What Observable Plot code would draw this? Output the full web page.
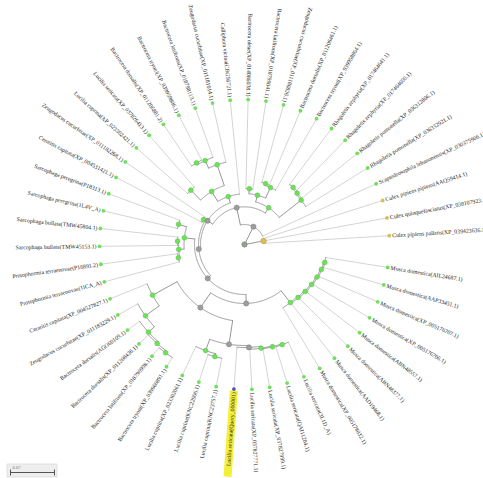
<!DOCTYPE html>
<html><head><meta charset="utf-8">
<script src="https://cdn.jsdelivr.net/npm/d3@7"></script>
<script src="https://cdn.jsdelivr.net/npm/@observablehq/plot@0.6"></script>
<style>body{margin:0;background:#fff}#chart svg{display:block}</style>
</head><body><div id="chart"></div>
<script>
// ---------- data ----------
const leafNames = [
  "Musca domestica(AIL24687.1)", "Musca domestica(AAP33451.1)", "Musca domestica(XP_005176707.1)",
  "Musca domestica(XP_005176706.1)", "Musca domestica(ABN48557.1)", "Musca domestica(ABN48377.1)",
  "Musca domestica(AAD19468.1)", "Musca domestica(XP_005178032.1)", "Lucilia sericata(3L1D_A)",
  "Lucilia sericata(QAI11204.1)", "Lucilia sericata(XP_037827999.1)", "Lucilia sericata(XP_037827771.1)",
  "Lucilia sericata(Query_000001)", "Lucilia cuprina(KNC23757.1)", "Lucilia cuprina(KNC22906.1)",
  "Lucilia cuprina(XP_023302061.1)", "Bactrocera tryoni(XP_039960891.1)", "Bactrocera latifrons(XP_018796908.1)",
  "Bactrocera dorsalis(XP_011208436.1)", "Bactrocera dorsalis(AGO60109.1)", "Zeugodacus cucurbitae(XP_011183229.1)",
  "Ceratitis capitata(XP_004527827.1)", "Protophormia terraenovae(1ICA_A)", "Protophormia terraenovae(P16891.2)",
  "Sarcophaga bullata(TMW45153.1)", "Sarcophaga bullata(TMW45804.1)", "Sarcophaga peregrina(1L4V_A)",
  "Sarcophaga peregrina(P18313.1)", "Ceratitis capitata(XP_004531421.1)", "Zeugodacus cucurbitae(XP_011182268.1)",
  "Lucilia cuprina(XP_023302421.1)", "Lucilia sericata(XP_037826413.1)", "Bactrocera dorsalis(XP_011206881.2)",
  "Bactrocera tryoni(XP_039959806.1)", "Bactrocera latifrons(XP_018798113.1)", "Zeugodacus cucurbitae(XP_011181014.1)",
  "Calliphora vicina(CBG56721.1)", "Bactrocera oleae(XP_014086038.1)", "Bactrocera latifrons(XP_018799041.1)",
  "Zeugodacus cucurbitae(XP_011186826.1)", "Bactrocera dorsalis(XP_011206461.1)", "Bactrocera tryoni(XP_039958864.1)",
  "Rhagoletis zephyria(XP_017464641.1)", "Rhagoletis zephyria(XP_017464600.1)", "Rhagoletis pomonella(XP_036312806.1)",
  "Rhagoletis pomonella(XP_036332921.1)", "Scaptodrosophila lebanonensis(XP_030375906.1)", "Culex pipiens pipiens(AAQ59414.1)",
  "Culex quinquefasciatus(XP_038107923.1)", "Culex pipiens pallens(XP_039423636.1)"
];
// tree topology (leaf ids refer to leafNames), branch lengths in substitutions/site
// internal labels: g = low-support node, y = outgroup node
const newick =
  "((47,48,49)y:0.0309,(((((((((((((((0,1):0.0022,2):0.0022,3):0.0022,4):0.0022,5):0.0022,6):0.0022,7):0.0239," +
  "((((((8,9):0.0016,10):0.0016,11):0.0032,12)g:0.0032,((13,14):0.0048,15):0.0191)g:0.0382," +
  "(((((16,17):0.0032,18):0.0032,19):0.0127,20):0.0271,21):0.0446)g:0.0287)g:0.0143," +
  "(((22,23):0.0024,(24,25):0.0016):0.0088,(26,27):0.0135):0.0167)g:0.0064,(28,29):0.0032)g:0.0032," +
  "(((30,31):0.0223,(((32,33):0.0032,34):0.0132,35):0.035):0.0188,36):0.0105)g:0.01," +
  "(((37,38):0.008,((39,40):0.003,41):0.0185):0.0111,(((42,43):0.0024,44):0.0024,45):0.0446):0.01)g:0.0282,46)g:0.0318)g;";
const outgroupLeaves = [47, 48, 49];
const queryLeaf = 12;
const scaleBarValue = 0.07;

// ---------- layout ----------
const W = 483, H = 478, CX = 244, CY = 244, K = 628; // px per unit
const leafR = 145 / K;
const startAngle = 9.1, stepAngle = 7.09;
const fontSize = 5.8;

function parseNewick(s) {
  let i = 0;
  function node() {
    const n = {children: [], label: "", length: 0};
    if (s[i] === "(") {
      i++;
      n.children.push(node());
      while (s[i] === ",") { i++; n.children.push(node()); }
      i++;
    }
    while (i < s.length && !",():;".includes(s[i])) n.label += s[i++];
    if (s[i] === ":") {
      i++; let num = "";
      while (i < s.length && !",();".includes(s[i])) num += s[i++];
      n.length = +num;
    }
    return n;
  }
  return node();
}

const root = d3.hierarchy(parseNewick(newick), d => d.children.length ? d.children : null);
root.eachBefore(n => { n.r = n.parent ? n.parent.r + n.data.length : 0; });
root.eachAfter(n => {
  if (!n.children) { n.id = +n.data.label; n.a = startAngle + n.id * stepAngle; }
  else n.a = d3.mean(n.children, c => c.a);
});
const rad = a => a * Math.PI / 180;
const px = (r, a) => r * Math.cos(rad(a));
const py = (r, a) => r * Math.sin(rad(a));
const U = p => p / K;

const nodes = root.descendants();
const internal = nodes.filter(n => n.children);
const leaves = nodes.filter(n => !n.children);

const links = nodes.filter(n => n.parent).map(n => {
  const r2 = n.children ? n.r : leafR;
  return {x1: px(n.parent.r, n.a), y1: py(n.parent.r, n.a), x2: px(r2, n.a), y2: py(r2, n.a), leaf: !n.children};
});
const arcs = [];
internal.forEach((n, k) => {
  if (n.r <= 0) return;
  const a0 = d3.min(n.children, c => c.a), a1 = d3.max(n.children, c => c.a);
  const steps = Math.max(2, Math.ceil((a1 - a0) / 0.5));
  for (let j = 0; j <= steps; j++) {
    const a = a0 + (a1 - a0) * j / steps;
    arcs.push({id: k, x: px(n.r, a), y: py(n.r, a)});
  }
});
const nodePts = internal.map(n => ({x: px(n.r, n.a), y: py(n.r, n.a), kind: n.data.label}));
const leafPts = leaves.map(n => ({x: px(leafR, n.a), y: py(leafR, n.a), id: n.id}));
const labelR = leafR + U(3);
const labels = leaves.map(n => {
  const a = ((n.a % 360) + 360) % 360;
  const flip = a > 90 && a < 290;
  return {x: px(labelR, a), y: py(labelR, a), text: leafNames[n.id], rot: flip ? a - 180 : (a > 180 ? a - 360 : a), flip, id: n.id, a};
});
const q = labels.find(d => d.id === queryLeaf);
const qLen = U(q.text.length * fontSize * 0.47 + 3);
const highlight = [{x1: px(labelR - U(1.5), q.a), y1: py(labelR - U(1.5), q.a), x2: px(labelR + qLen, q.a), y2: py(labelR + qLen, q.a)}];

// scale bar (bottom-left)
const sbX = U(10 - CX), sbY = U(472 - CY);
const scaleBar = [{x1: sbX, x2: sbX + scaleBarValue, y1: sbY, y2: sbY}];
const scaleTicks = [sbX, sbX + scaleBarValue].map(x => ({x1: x, x2: x, y1: sbY - U(3), y2: sbY + U(3)}));
const scaleBox = [{x1: U(7 - CX), x2: U(57 - CX), y1: U(464 - CY), y2: U(477 - CY)}];

const green = "#6fe05a", gray = "#9d9d9d", gold = "#d6be58", blue = "#5252c4";

const chart = Plot.plot({
  width: W, height: H, margin: 0,
  x: {domain: [U(-CX), U(W - CX)], range: [0, W], axis: null},
  y: {domain: [U(-CY), U(H - CY)], range: [0, H], axis: null},
  style: {background: "#fff"},
  marks: [
    Plot.rect(scaleBox, {x1: "x1", x2: "x2", y1: "y1", y2: "y2", fill: "#eeeeee", stroke: "#d4d4d4", strokeWidth: 0.6}),
    Plot.link(scaleBar, {x1: "x1", y1: "y1", x2: "x2", y2: "y2", stroke: "#555", strokeWidth: 1}),
    Plot.link(scaleTicks, {x1: "x1", y1: "y1", x2: "x2", y2: "y2", stroke: "#555", strokeWidth: 1}),
    Plot.text([{x: U(12 - CX), y: U(467 - CY), t: String(scaleBarValue)}], {x: "x", y: "y", text: "t", fontSize: 4.5, fill: "#777", textAnchor: "start", fontFamily: "Liberation Serif"}),
    Plot.link(highlight, {x1: "x1", y1: "y1", x2: "x2", y2: "y2", stroke: "#f4f03a", strokeWidth: 8, strokeLinecap: "butt"}),
    Plot.link(links.filter(d => d.leaf), {x1: "x1", y1: "y1", x2: "x2", y2: "y2", stroke: "#c9c9c9", strokeWidth: 0.8}),
    Plot.link(links.filter(d => !d.leaf), {x1: "x1", y1: "y1", x2: "x2", y2: "y2", stroke: "#8c8c8c", strokeWidth: 0.9}),
    Plot.line(arcs, {x: "x", y: "y", z: "id", stroke: "#8c8c8c", strokeWidth: 0.9}),
    Plot.dot(nodePts.filter(d => d.kind === ""), {x: "x", y: "y", r: 2.4, fill: green, stroke: "#55c043", strokeWidth: 0.5}),
    Plot.dot(nodePts.filter(d => d.kind === "g"), {x: "x", y: "y", r: 2.6, fill: gray, stroke: "#808080", strokeWidth: 0.5}),
    Plot.dot(nodePts.filter(d => d.kind === "y"), {x: "x", y: "y", r: 2.8, fill: gold, stroke: "#b89e3a", strokeWidth: 0.5}),
    Plot.dot(leafPts.filter(d => !outgroupLeaves.includes(d.id) && d.id !== queryLeaf), {x: "x", y: "y", r: 1.9, fill: green}),
    Plot.dot(leafPts.filter(d => outgroupLeaves.includes(d.id)), {x: "x", y: "y", r: 1.9, fill: gold}),
    Plot.dot(leafPts.filter(d => d.id === queryLeaf), {x: "x", y: "y", r: 1.9, fill: blue}),
    Plot.text(labels.filter(d => !d.flip), {x: "x", y: "y", text: "text", rotate: "rot", textAnchor: "start", fontSize, fontFamily: "Liberation Serif", fill: "#262626"}),
    Plot.text(labels.filter(d => d.flip), {x: "x", y: "y", text: "text", rotate: "rot", textAnchor: "end", fontSize, fontFamily: "Liberation Serif", fill: "#262626"})
  ]
});
document.getElementById("chart").append(chart);
</script>
</body></html>
